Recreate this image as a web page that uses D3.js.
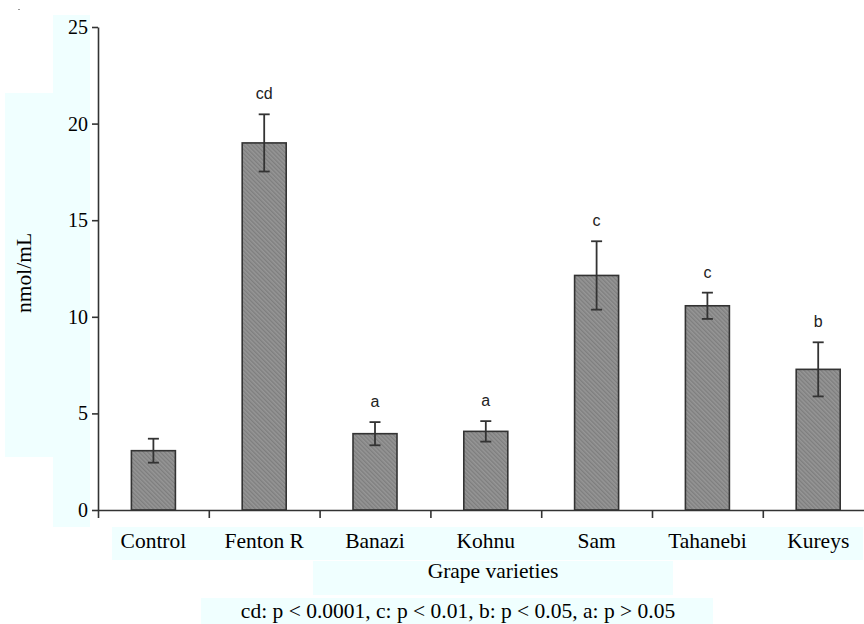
<!DOCTYPE html>
<html>
<head>
<meta charset="utf-8">
<script src="https://cdn.jsdelivr.net/npm/d3@7"></script>
<style>
  body { margin: 0; background: #fff; }
  svg { display: block; }
  .axes path, .axes line { stroke: #333; stroke-width: 1.6; }
  .axes text { font-family: "Liberation Serif", "Times New Roman", serif; font-size: 20px; fill: #000; }
  .xlab text { font-size: 21.5px; }
  .lbl { font-family: "Liberation Serif", "Times New Roman", serif; font-size: 21.5px; fill: #000; }
  .sig { font-family: "Liberation Sans", Arial, sans-serif; font-size: 16px; fill: #222; }
</style>
</head>
<body>
<div id="graph"></div>
<script>
// Data
const categories = ["Control", "Fenton R", "Banazi", "Kohnu", "Sam", "Tahanebi", "Kureys"];
const means = [3.07, 19.0, 3.95, 4.07, 12.14, 10.57, 7.28];
const errors = [0.62, 1.48, 0.6, 0.53, 1.77, 0.68, 1.4];
const letters = ["", "cd", "a", "a", "c", "c", "b"];
const yTicks = [0, 5, 10, 15, 20, 25];

const data = categories.map((c, i) => ({ cat: c, mean: means[i], err: errors[i], letter: letters[i] }));

const W = 864, H = 624;
const x0 = 98, step = 110.8, y0 = 510, yTop = 27;

let svg = d3.select("#graph").append("svg")
    .attr("width", W)
    .attr("height", H);

// light cyan text boxes behind the labels
const boxes = [[53, 15, 37, 512], [5, 93, 48, 364], [112, 527, 751, 33], [313, 561, 360, 34], [201, 598, 512, 26]];
svg.selectAll("rect.box").data(boxes).enter().append("rect")
    .attr("class", "box")
    .attr("x", d => d[0]).attr("y", d => d[1])
    .attr("width", d => d[2]).attr("height", d => d[3])
    .attr("fill", "#f0ffff");

svg.append("rect").attr("x", 18).attr("y", 9).attr("width", 2).attr("height", 1).attr("fill", "#999");

// hatch pattern
let defs = svg.append("defs");
let pat = defs.append("pattern")
    .attr("id", "hatch")
    .attr("patternUnits", "userSpaceOnUse")
    .attr("width", 3).attr("height", 3)
    .attr("patternTransform", "rotate(-45)");
pat.append("rect").attr("width", 3).attr("height", 3).attr("fill", "#969696");
pat.append("line").attr("x1", 0.75).attr("y1", 0).attr("x2", 0.75).attr("y2", 3)
    .attr("stroke", "#787878").attr("stroke-width", 1.1);

// Scales
let x = d3.scaleBand().domain(categories).range([x0, x0 + step * categories.length]).padding(0);
let xl = d3.scaleLinear().domain([0, categories.length]).range([x0, x0 + step * categories.length]);
let y = d3.scaleLinear().domain([0, 25]).range([y0, yTop]);
const bw = 44;

// Bars
svg.selectAll("rect.bar").data(data).enter().append("rect")
    .attr("class", "bar")
    .attr("x", d => x(d.cat) + x.bandwidth() / 2 - bw / 2)
    .attr("y", d => y(d.mean))
    .attr("width", bw)
    .attr("height", d => y(0) - y(d.mean))
    .attr("fill", "url(#hatch)")
    .attr("stroke", "#333")
    .attr("stroke-width", 1.6);

// Error bars
let eb = svg.selectAll("g.err").data(data).enter().append("g")
    .attr("class", "err")
    .attr("stroke", "#333")
    .attr("stroke-width", 1.8);
eb.append("line")
    .attr("x1", d => x(d.cat) + x.bandwidth() / 2)
    .attr("x2", d => x(d.cat) + x.bandwidth() / 2)
    .attr("y1", d => y(d.mean + d.err))
    .attr("y2", d => y(d.mean - d.err));
eb.append("line")
    .attr("x1", d => x(d.cat) + x.bandwidth() / 2 - 5.5)
    .attr("x2", d => x(d.cat) + x.bandwidth() / 2 + 5.5)
    .attr("y1", d => y(d.mean + d.err))
    .attr("y2", d => y(d.mean + d.err));
eb.append("line")
    .attr("x1", d => x(d.cat) + x.bandwidth() / 2 - 5.5)
    .attr("x2", d => x(d.cat) + x.bandwidth() / 2 + 5.5)
    .attr("y1", d => y(d.mean - d.err))
    .attr("y2", d => y(d.mean - d.err));

// Significance letters
svg.selectAll("text.sig").data(data.filter(d => d.letter)).enter().append("text")
    .attr("class", "sig")
    .attr("x", d => x(d.cat) + x.bandwidth() / 2)
    .attr("y", d => y(d.mean + d.err) - 15)
    .attr("text-anchor", "middle")
    .text(d => d.letter);

// X axis line with boundary ticks
svg.append("g")
    .attr("class", "axes")
    .attr("transform", `translate(0, ${y0})`)
    .call(d3.axisBottom(xl).tickValues(d3.range(categories.length + 1)).tickSize(8).tickSizeOuter(0).tickFormat(""));

// X labels
let xa = svg.append("g")
    .attr("class", "axes xlab")
    .attr("transform", `translate(0, ${y0})`)
    .call(d3.axisBottom(x).tickSize(0).tickPadding(23));
xa.select(".domain").remove();

// Y axis
svg.append("g")
    .attr("class", "axes")
    .attr("transform", `translate(${x0}, 0)`)
    .call(d3.axisLeft(y).tickValues(yTicks).tickSize(6).tickSizeOuter(0).tickPadding(4));

// Axis titles
svg.append("text")
    .attr("class", "lbl")
    .attr("transform", "translate(31, 273) rotate(-90)")
    .attr("text-anchor", "middle")
    .text("nmol/mL");

svg.append("text")
    .attr("class", "lbl")
    .attr("x", 493).attr("y", 578)
    .attr("text-anchor", "middle")
    .text("Grape varieties");

svg.append("text")
    .attr("class", "lbl")
    .attr("x", 458).attr("y", 618)
    .attr("text-anchor", "middle")
    .text("cd: p < 0.0001, c: p < 0.01, b: p < 0.05, a: p > 0.05");
</script>
</body>
</html>
